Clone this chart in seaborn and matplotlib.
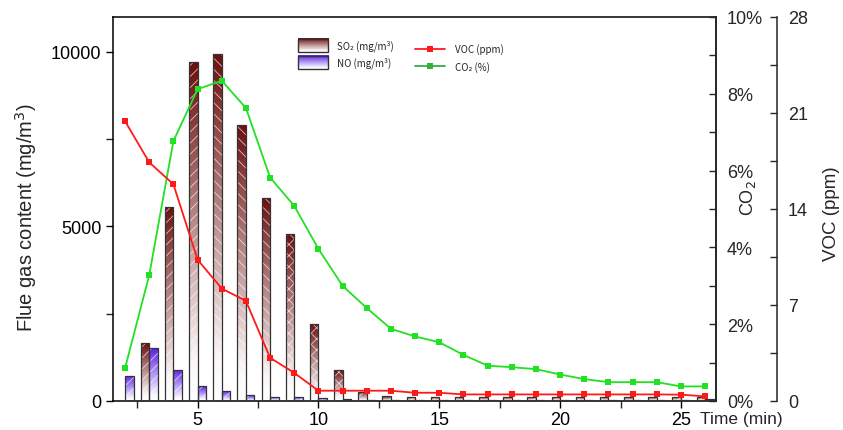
import numpy as np
import pandas as pd
import matplotlib
matplotlib.use("Agg")
import matplotlib.pyplot as plt
import seaborn as sns
from matplotlib.colors import LinearSegmentedColormap
from matplotlib.patches import Rectangle
from matplotlib.lines import Line2D
from matplotlib.ticker import MultipleLocator, FuncFormatter

# ---------------- data ----------------
time = list(range(2, 27))
so2 = [0, 1660, 5560, 9710, 9950, 7910, 5820, 4780, 2220, 875, 260, 134,
       120, 115, 115, 115, 115, 120, 120, 120, 120, 120, 120, 120, 120]
no = [720, 1510, 890, 420, 280, 165, 125, 105, 76, 57, 30, 22,
      25, 20, 25, 20, 25, 25, 20, 20, 25, 25, 25, 35, 45]
voc = [20.4, 17.4, 15.8, 10.3, 8.2, 7.3, 3.15, 2.05, 0.75, 0.75, 0.75, 0.75,
       0.6, 0.6, 0.48, 0.48, 0.48, 0.48, 0.48, 0.48, 0.48, 0.48, 0.48, 0.46, 0.34]
co2 = [0.86, 3.28, 6.77, 8.12, 8.34, 7.63, 5.82, 5.08, 3.96, 3.0, 2.42, 1.88,
       1.68, 1.53, 1.2, 0.92, 0.88, 0.83, 0.69, 0.57, 0.49, 0.49, 0.49, 0.38, 0.38]
gas_levels = ["SO2", "NO"]
legend_labels = ["SO\u2082 (mg/m\u00b3)", "NO (mg/m\u00b3)", "VOC (ppm)", "CO\u2082 (%)"]

# styles
so2_hatch = ["///", "///", "///", "///", "\\\\\\", "\\\\\\", "\\\\\\", "xxx", "xxx", "xxx",
             "///", "///", "///", "///", "///", "///", "///", "///", "///", "///",
             "///", "///", "///", "///", "///"]
SO2_TOP = "#6b0e0e"
NO_TOP = "#5a1ee6"
RED = "#ff1a1a"
GREEN = "#22e022"

sns.set_style("ticks")
plt.rcParams["font.family"] = ["Liberation Sans", "DejaVu Sans"]
plt.rcParams["hatch.linewidth"] = 0.6

fig = plt.figure(figsize=(8.43, 4.31), dpi=100)
ax = fig.add_axes([113 / 843, 1 - 402 / 431, 603 / 843, 384 / 431])

df = pd.DataFrame({
    "time": time * 2,
    "gas": ["SO2"] * len(time) + ["NO"] * len(time),
    "value": so2 + no,
})
sns.barplot(data=df, x="time", y="value", hue="gas", hue_order=gas_levels,
            native_scale=True, width=0.7, dodge=True, saturation=1,
            palette=[SO2_TOP, NO_TOP], errorbar=None, legend=False, ax=ax,
            edgecolor="#333333", linewidth=0.9)

so2_cmap = LinearSegmentedColormap.from_list("so2", [(0, "#ffffff"), (0.12, "#fbf6f6"), (1, SO2_TOP)])
no_cmap = LinearSegmentedColormap.from_list("no", [(0, "#ffffff"), (0.12, "#f8f6ff"), (1, NO_TOP)])
grad = np.linspace(0, 1, 256).reshape(-1, 1)

for bar in list(ax.patches):
    x0, y0 = bar.get_xy()
    w, h = bar.get_width(), bar.get_height()
    if h <= 0:
        bar.set_visible(False)
        continue
    cx = x0 + w / 2
    idx = int(round(cx)) - time[0]
    is_so2 = cx < round(cx)
    cmap = so2_cmap if is_so2 else no_cmap
    hatch = so2_hatch[idx] if is_so2 else "///"
    im = ax.imshow(grad, extent=[x0, x0 + w, y0, y0 + h], origin="lower",
                   aspect="auto", cmap=cmap, zorder=1, interpolation="bilinear")
    im.set_clip_path(bar)
    bar.set_facecolor("none")
    bar.set_zorder(3)
    ax.add_patch(Rectangle((x0, y0), w, h, facecolor="none",
                           edgecolor=(1, 1, 1, 0.7), lw=0, hatch=hatch, zorder=2))

ax.set_xlim(1.5, 26.45)
ax.set_ylim(0, 11000)
ax.set_xlabel("")
ax.set_ylabel("Flue gas content (mg/m$^3$)", fontsize=14.5)
ax.yaxis.set_label_coords(-0.122, 0.48)
ax.xaxis.set_major_locator(MultipleLocator(5))
ax.xaxis.set_minor_locator(MultipleLocator(2.5))
ax.yaxis.set_major_locator(MultipleLocator(5000))
ax.yaxis.set_minor_locator(MultipleLocator(2500))
ax.tick_params(axis="both", which="major", direction="out", length=5, width=1,
               labelsize=13, colors="black")
ax.tick_params(axis="both", which="minor", direction="out", length=5, width=1)
ax.tick_params(axis="x", pad=2)
for s in ["left", "right", "top", "bottom"]:
    ax.spines[s].set_visible(True)
    ax.spines[s].set_color("black")
    ax.spines[s].set_linewidth(1.1)

# CO2 axis
ax_co2 = ax.twinx()
sns.lineplot(x=time, y=co2, ax=ax_co2, color=GREEN, marker="s", markersize=5,
             markeredgewidth=0, linewidth=1.3)
ax_co2.set_ylim(0, 10)
ax_co2.yaxis.set_major_locator(MultipleLocator(2))
ax_co2.yaxis.set_minor_locator(MultipleLocator(1))
ax_co2.yaxis.set_major_formatter(FuncFormatter(lambda v, p: f"{v:.0f}%"))
ax_co2.tick_params(axis="y", which="both", direction="in", length=5, width=1,
                   labelsize=13, pad=8)
ax_co2.set_ylabel("CO$_2$", fontsize=13)
ax_co2.yaxis.set_label_coords(1.036, 0.53)
for s in ["left", "top", "bottom"]:
    ax_co2.spines[s].set_visible(False)
ax_co2.spines["right"].set_linewidth(1.1)

# VOC axis
ax_voc = ax.twinx()
sns.lineplot(x=time, y=voc, ax=ax_voc, color=RED, marker="s", markersize=5,
             markeredgewidth=0, linewidth=1.3)
ax_voc.spines["right"].set_position(("axes", 1.101))
ax_voc.set_ylim(0, 28)
ax_voc.yaxis.set_major_locator(MultipleLocator(7))
ax_voc.yaxis.set_minor_locator(MultipleLocator(3.5))
ax_voc.tick_params(axis="y", which="both", direction="in", length=5, width=1,
                   labelsize=13, pad=8)
ax_voc.set_ylabel("VOC (ppm)", fontsize=13.5)
ax_voc.yaxis.set_label_coords(1.178, 0.49)
for s in ["left", "top", "bottom"]:
    ax_voc.spines[s].set_visible(False)
ax_voc.spines["right"].set_linewidth(1.1)
ax_co2.set_xlim(1.5, 26.45)

fig.text(700 / 843, 1 - 420 / 431, "Time (min)", fontsize=12.5, ha="left", va="center")

# ------------- custom legend -------------
lfont = dict(fontsize=7, family=["Noto Sans CJK JP", "DejaVu Sans"])
for (cmap, ylo, yhi, lab) in [(so2_cmap, 0.909, 0.943, legend_labels[0]),
                              (no_cmap, 0.865, 0.899, legend_labels[1])]:
    ax_voc.imshow(grad, extent=[0.307, 0.357, ylo, yhi], origin="lower",
                  aspect="auto", cmap=cmap, transform=ax_voc.transAxes, zorder=5)
    ax_voc.add_patch(Rectangle((0.307, ylo), 0.05, yhi - ylo, transform=ax_voc.transAxes,
                               facecolor="none", edgecolor="#333333", lw=1, zorder=6))
    ax_voc.text(0.372, (ylo + yhi) / 2, lab, transform=ax_voc.transAxes,
                va="center", ha="left", **lfont)
for (col, yy, lab) in [(RED, 0.917, legend_labels[2]), ("#33b040", 0.872, legend_labels[3])]:
    ax_voc.add_line(Line2D([0.501, 0.551], [yy, yy], transform=ax_voc.transAxes,
                           color=col, lw=1.3))
    ax_voc.add_line(Line2D([0.526], [yy], transform=ax_voc.transAxes, color=col,
                           marker="s", markersize=4, markeredgewidth=0))
    ax_voc.text(0.567, yy, lab, transform=ax_voc.transAxes, va="center", ha="left", **lfont)
ax_voc.set_xlim(1.5, 26.45)
ax_voc.set_ylim(0, 28)

fig.savefig("out.png", dpi=100)
